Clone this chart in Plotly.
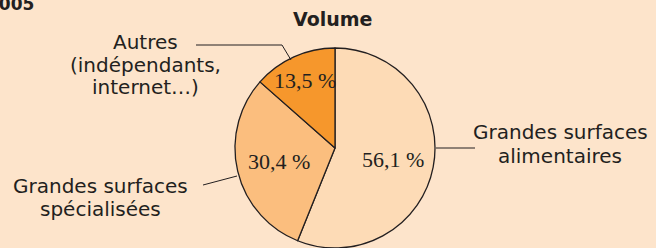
import math
import plotly.graph_objects as go

W, H = 656, 248

categories = ["Grandes surfaces alimentaires", "Grandes surfaces spécialisées", "Autres (indépendants, internet…)"]
values = [56.1, 30.4, 13.5]
slice_colors = ["#FDDBB6", "#FBBE7E", "#F6972C"]
outside_labels = [
    ["Grandes surfaces", "alimentaires"],
    ["Grandes surfaces", "spécialisées"],
    ["Autres", "(indépendants,", "internet…)"],
]
title_text = "Volume"
year_text = "2005"

BG = "#FDE4CB"
INK = "#231F20"

cx, cy, R = 335, 148, 100

def px(x):
    return x / W

def py(y):
    return 1 - y / H

fig = go.Figure()
fig.add_trace(go.Pie(
    labels=categories,
    values=values,
    sort=False,
    direction="clockwise",
    rotation=0,
    marker=dict(colors=slice_colors, line=dict(color=INK, width=1.3)),
    textinfo="none",
    hoverinfo="label+value",
    showlegend=False,
    domain=dict(x=[px(cx - R), px(cx + R)], y=[py(cy + R), py(cy - R)]),
))

annotations = []
# percentage labels inside slices, placed at each slice's mid-angle
radial_frac = [0.59, 0.58, 0.74]
total = sum(values)
cum = 0.0
for v, rf in zip(values, radial_frac):
    mid = (cum + v / 2) / total * 2 * math.pi
    cum += v
    x = cx + rf * R * math.sin(mid)
    y = cy - rf * R * math.cos(mid)
    annotations.append(dict(
        x=px(x), y=py(y), xref="paper", yref="paper",
        text=f"{v:.1f} %".replace(".", ","), showarrow=False,
        xanchor="center", yanchor="middle",
        font=dict(family="Liberation Serif", size=22, color=INK),
    ))

label_font = dict(family="DejaVu Sans", size=20, color=INK)
label_pos = [(560, [132, 156]), (100, [186, 209]), (145, [42, 65, 87])]
for lines, (lx, ys) in zip(outside_labels, label_pos):
    for line, ly in zip(lines, ys):
        annotations.append(dict(
            x=px(lx), y=py(ly), xref="paper", yref="paper", text=line,
            showarrow=False, xanchor="center", yanchor="middle", font=label_font,
        ))

annotations += [
    dict(x=px(333), y=py(19), text=f"<b>{title_text}</b>", showarrow=False, xanchor="center", yanchor="middle",
         font=dict(family="DejaVu Sans", size=19, color=INK), xref="paper", yref="paper"),
    dict(x=px(36), y=py(16), text=f"<b>{year_text}</b>", showarrow=False, xanchor="right", yanchor="bottom",
         font=dict(family="DejaVu Sans", size=17, color=INK), xref="paper", yref="paper"),
]

line_style = dict(color=INK, width=1)
shapes = [
    dict(type="path", xref="paper", yref="paper",
         path=f"M {px(196)} {py(45)} L {px(282)} {py(45)} L {px(291)} {py(60)}", line=line_style),
    dict(type="line", xref="paper", yref="paper", x0=px(436), y0=py(148), x1=px(475), y1=py(148), line=line_style),
    dict(type="line", xref="paper", yref="paper", x0=px(203), y0=py(185), x1=px(237), y1=py(176), line=line_style),
]

fig.update_layout(
    width=W, height=H,
    margin=dict(l=0, r=0, t=0, b=0),
    paper_bgcolor=BG, plot_bgcolor=BG,
    annotations=annotations, shapes=shapes,
)

fig.write_html(
    "out.html",
    config={"displayModeBar": False},
    post_script="document.body.style.margin='0';document.body.style.padding='0';document.body.style.overflow='hidden';",
)
